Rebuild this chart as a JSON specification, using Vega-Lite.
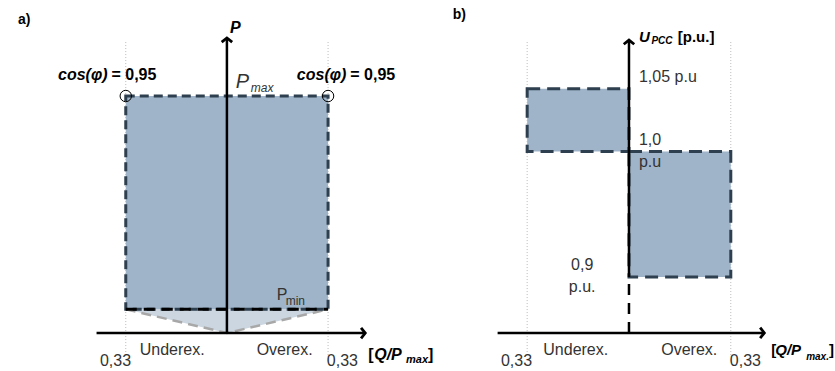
{
  "$schema": "https://vega.github.io/schema/vega-lite/v6.json",
  "width": 835,
  "height": 371,
  "autosize": {"type": "fit", "contains": "padding"},
  "padding": 0,
  "background": "white",
  "config": {
    "view": {"stroke": null},
    "axis": {"disable": true},
    "text": {"font": "Liberation Sans", "baseline": "middle"}
  },
  "resolve": {"scale": {"x": "independent", "y": "independent"}},
  "layer": [
    {
      "layer": [
        {
          "data": {"values": [{"q": -0.33, "a": -0.093, "b": 1.228}, {"q": 0.33, "a": -0.093, "b": 1.228}]},
          "mark": {"type": "rule", "color": "#bbbbbb", "strokeWidth": 1, "strokeDash": [1, 2]},
          "encoding": {
            "x": {"field": "q", "type": "quantitative", "scale": {"domain": [-0.7403, 1.9708], "nice": false, "zero": false}},
            "y": {"field": "a", "type": "quantitative", "scale": {"domain": [-0.1603, 1.4051], "nice": false, "zero": false}},
            "y2": {"field": "b"}
          }
        },
        {
          "data": {"values": [{"q": -0.33, "p": 0.1, "top": 0.1}, {"q": 0, "p": 0, "top": 0.1}, {"q": 0.33, "p": 0.1, "top": 0.1}]},
          "mark": {"type": "area", "color": "#cbd6e1", "opacity": 1},
          "encoding": {
            "x": {"field": "q", "type": "quantitative", "scale": {"domain": [-0.7403, 1.9708], "nice": false, "zero": false}},
            "y": {"field": "p", "type": "quantitative", "scale": {"domain": [-0.1603, 1.4051], "nice": false, "zero": false}},
            "y2": {"field": "top"}
          }
        },
        {
          "data": {"values": [{"q": -0.33, "p": 0.1}, {"q": 0, "p": 0}, {"q": 0.33, "p": 0.1}]},
          "mark": {"type": "line", "color": "#a8a8a8", "strokeWidth": 2.5, "strokeDash": [10, 6]},
          "encoding": {
            "x": {"field": "q", "type": "quantitative", "scale": {"domain": [-0.7403, 1.9708], "nice": false, "zero": false}},
            "y": {"field": "p", "type": "quantitative", "scale": {"domain": [-0.1603, 1.4051], "nice": false, "zero": false}}
          }
        },
        {
          "data": {"values": [{"q1": -0.33, "q2": 0.33, "p1": 0.1, "p2": 1.0}]},
          "mark": {"type": "rect", "fill": "#9fb4c8", "stroke": "#2e3f4f", "strokeWidth": 3, "strokeDash": [9, 5]},
          "encoding": {
            "x": {"field": "q1", "type": "quantitative", "scale": {"domain": [-0.7403, 1.9708], "nice": false, "zero": false}},
            "x2": {"field": "q2"},
            "y": {"field": "p1", "type": "quantitative", "scale": {"domain": [-0.1603, 1.4051], "nice": false, "zero": false}},
            "y2": {"field": "p2"}
          }
        },
        {
          "data": {"values": [{"q1": -0.33, "q2": 0.33, "p": 0.1}]},
          "mark": {"type": "rule", "color": "#000000", "strokeWidth": 3, "strokeDash": [11, 7]},
          "encoding": {
            "x": {"field": "q1", "type": "quantitative", "scale": {"domain": [-0.7403, 1.9708], "nice": false, "zero": false}},
            "x2": {"field": "q2"},
            "y": {"field": "p", "type": "quantitative", "scale": {"domain": [-0.1603, 1.4051], "nice": false, "zero": false}}
          }
        },
        {
          "data": {"values": [{"q": 0, "a": 0, "b": 1.24}]},
          "mark": {"type": "rule", "color": "#000000", "strokeWidth": 2.5},
          "encoding": {
            "x": {"field": "q", "type": "quantitative", "scale": {"domain": [-0.7403, 1.9708], "nice": false, "zero": false}},
            "y": {"field": "a", "type": "quantitative", "scale": {"domain": [-0.1603, 1.4051], "nice": false, "zero": false}},
            "y2": {"field": "b"}
          }
        },
        {
          "data": {"values": [{"a": -0.4253, "b": 0.447, "p": 0}]},
          "mark": {"type": "rule", "color": "#000000", "strokeWidth": 2.5},
          "encoding": {
            "x": {"field": "a", "type": "quantitative", "scale": {"domain": [-0.7403, 1.9708], "nice": false, "zero": false}},
            "x2": {"field": "b"},
            "y": {"field": "p", "type": "quantitative", "scale": {"domain": [-0.1603, 1.4051], "nice": false, "zero": false}}
          }
        },
        {
          "data": {"values": [{"q": 0, "p": 1.2447}]},
          "mark": {"type": "point", "shape": "M-1,0.8L0,0L1,0.8", "size": 110, "filled": false, "stroke": "#000000", "strokeWidth": 2.8, "opacity": 1},
          "encoding": {
            "x": {"field": "q", "type": "quantitative", "scale": {"domain": [-0.7403, 1.9708], "nice": false, "zero": false}},
            "y": {"field": "p", "type": "quantitative", "scale": {"domain": [-0.1603, 1.4051], "nice": false, "zero": false}}
          }
        },
        {
          "data": {"values": [{"q": 0.4513, "p": 0}]},
          "mark": {"type": "point", "shape": "M-0.8,-1L0,0L-0.8,1", "size": 110, "filled": false, "stroke": "#000000", "strokeWidth": 2.8, "opacity": 1},
          "encoding": {
            "x": {"field": "q", "type": "quantitative", "scale": {"domain": [-0.7403, 1.9708], "nice": false, "zero": false}},
            "y": {"field": "p", "type": "quantitative", "scale": {"domain": [-0.1603, 1.4051], "nice": false, "zero": false}}
          }
        },
        {
          "data": {"values": [{"q": -0.33, "p": 1.0}, {"q": 0.33, "p": 1.0}]},
          "mark": {"type": "point", "shape": "circle", "size": 130, "filled": false, "stroke": "#000000", "strokeWidth": 1, "opacity": 1},
          "encoding": {
            "x": {"field": "q", "type": "quantitative", "scale": {"domain": [-0.7403, 1.9708], "nice": false, "zero": false}},
            "y": {"field": "p", "type": "quantitative", "scale": {"domain": [-0.1603, 1.4051], "nice": false, "zero": false}}
          }
        },
        {
          "data": {"values": [{"q": -0.3766, "p": 1.0886, "t": "= 0,95"}, {"q": 0.4026, "p": 1.0886, "t": "= 0,95"}, {"q": 0.461, "p": -0.0928, "t": "["}, {"q": 0.6558, "p": -0.0928, "t": "]"}]},
          "mark": {"type": "text", "fontWeight": "bold", "fontSize": 16, "align": "left", "color": "#000000"},
          "encoding": {
            "x": {"field": "q", "type": "quantitative", "scale": {"domain": [-0.7403, 1.9708], "nice": false, "zero": false}},
            "y": {"field": "p", "type": "quantitative", "scale": {"domain": [-0.1603, 1.4051], "nice": false, "zero": false}},
            "text": {"field": "t"}
          }
        },
        {
          "data": {"values": [{"q": -0.3896, "p": 1.0886, "t": "cos(φ)"}, {"q": 0.3896, "p": 1.0886, "t": "cos(φ)"}]},
          "mark": {"type": "text", "fontWeight": "bold", "fontStyle": "italic", "fontSize": 16, "align": "right", "color": "#000000"},
          "encoding": {
            "x": {"field": "q", "type": "quantitative", "scale": {"domain": [-0.7403, 1.9708], "nice": false, "zero": false}},
            "y": {"field": "p", "type": "quantitative", "scale": {"domain": [-0.1603, 1.4051], "nice": false, "zero": false}},
            "text": {"field": "t"}
          }
        },
        {
          "data": {"values": [{"q": 0.0097, "p": 1.2869, "t": "P"}, {"q": 0.4805, "p": -0.0928, "t": "Q/P"}]},
          "mark": {"type": "text", "fontWeight": "bold", "fontStyle": "italic", "fontSize": 16, "align": "left", "color": "#000000"},
          "encoding": {
            "x": {"field": "q", "type": "quantitative", "scale": {"domain": [-0.7403, 1.9708], "nice": false, "zero": false}},
            "y": {"field": "p", "type": "quantitative", "scale": {"domain": [-0.1603, 1.4051], "nice": false, "zero": false}},
            "text": {"field": "t"}
          }
        },
        {
          "data": {"values": [{"q": 0.5844, "p": -0.1139, "t": "max"}]},
          "mark": {"type": "text", "fontWeight": "bold", "fontStyle": "italic", "fontSize": 11, "align": "left", "color": "#000000"},
          "encoding": {
            "x": {"field": "q", "type": "quantitative", "scale": {"domain": [-0.7403, 1.9708], "nice": false, "zero": false}},
            "y": {"field": "p", "type": "quantitative", "scale": {"domain": [-0.1603, 1.4051], "nice": false, "zero": false}},
            "text": {"field": "t"}
          }
        },
        {
          "data": {"values": [{"q": -0.6818, "p": 1.3207, "t": "a)"}]},
          "mark": {"type": "text", "fontWeight": "bold", "fontSize": 14, "align": "left", "color": "#000000"},
          "encoding": {
            "x": {"field": "q", "type": "quantitative", "scale": {"domain": [-0.7403, 1.9708], "nice": false, "zero": false}},
            "y": {"field": "p", "type": "quantitative", "scale": {"domain": [-0.1603, 1.4051], "nice": false, "zero": false}},
            "text": {"field": "t"}
          }
        },
        {
          "data": {"values": [{"q": 0.0292, "p": 1.0591, "t": "P"}]},
          "mark": {"type": "text", "fontStyle": "italic", "fontSize": 20, "align": "left", "color": "#333333"},
          "encoding": {
            "x": {"field": "q", "type": "quantitative", "scale": {"domain": [-0.7403, 1.9708], "nice": false, "zero": false}},
            "y": {"field": "p", "type": "quantitative", "scale": {"domain": [-0.1603, 1.4051], "nice": false, "zero": false}},
            "text": {"field": "t"}
          }
        },
        {
          "data": {"values": [{"q": 0.0779, "p": 1.0338, "t": "max"}]},
          "mark": {"type": "text", "fontStyle": "italic", "fontSize": 12, "align": "left", "color": "#333333"},
          "encoding": {
            "x": {"field": "q", "type": "quantitative", "scale": {"domain": [-0.7403, 1.9708], "nice": false, "zero": false}},
            "y": {"field": "p", "type": "quantitative", "scale": {"domain": [-0.1603, 1.4051], "nice": false, "zero": false}},
            "text": {"field": "t"}
          }
        },
        {
          "data": {"values": [{"q": 0.1623, "p": 0.1603, "t": "P"}]},
          "mark": {"type": "text", "fontSize": 16, "align": "left", "color": "#333333"},
          "encoding": {
            "x": {"field": "q", "type": "quantitative", "scale": {"domain": [-0.7403, 1.9708], "nice": false, "zero": false}},
            "y": {"field": "p", "type": "quantitative", "scale": {"domain": [-0.1603, 1.4051], "nice": false, "zero": false}},
            "text": {"field": "t"}
          }
        },
        {
          "data": {"values": [{"q": 0.1916, "p": 0.135, "t": "min"}]},
          "mark": {"type": "text", "fontSize": 12, "align": "left", "color": "#333333"},
          "encoding": {
            "x": {"field": "q", "type": "quantitative", "scale": {"domain": [-0.7403, 1.9708], "nice": false, "zero": false}},
            "y": {"field": "p", "type": "quantitative", "scale": {"domain": [-0.1603, 1.4051], "nice": false, "zero": false}},
            "text": {"field": "t"}
          }
        },
        {
          "data": {"values": [{"q": -0.1786, "p": -0.0717, "t": "Underex."}, {"q": 0.1883, "p": -0.0717, "t": "Overex."}, {"q": -0.3636, "p": -0.1181, "t": "0,33"}, {"q": 0.3766, "p": -0.1181, "t": "0,33"}]},
          "mark": {"type": "text", "fontSize": 16, "align": "center", "color": "#333333"},
          "encoding": {
            "x": {"field": "q", "type": "quantitative", "scale": {"domain": [-0.7403, 1.9708], "nice": false, "zero": false}},
            "y": {"field": "p", "type": "quantitative", "scale": {"domain": [-0.1603, 1.4051], "nice": false, "zero": false}},
            "text": {"field": "t"}
          }
        }
      ]
    },
    {
      "layer": [
        {
          "data": {"values": [{"q": -0.33, "a": 0.8378, "b": 1.0873}, {"q": 0.33, "a": 0.8378, "b": 1.0873}]},
          "mark": {"type": "rule", "color": "#bbbbbb", "strokeWidth": 1, "strokeDash": [1, 2]},
          "encoding": {
            "x": {"field": "q", "type": "quantitative", "scale": {"domain": [-2.0387, 0.6548], "nice": false, "zero": false}},
            "y": {"field": "a", "type": "quantitative", "scale": {"domain": [0.8251, 1.1207], "nice": false, "zero": false}},
            "y2": {"field": "b"}
          }
        },
        {
          "data": {"values": [{"q1": -0.33, "q2": 0, "u1": 1.0, "u2": 1.05}, {"q1": 0, "q2": 0.33, "u1": 0.9, "u2": 1.0}]},
          "mark": {"type": "rect", "fill": "#9fb4c8", "stroke": "#2e3f4f", "strokeWidth": 3, "strokeDash": [13, 7]},
          "encoding": {
            "x": {"field": "q1", "type": "quantitative", "scale": {"domain": [-2.0387, 0.6548], "nice": false, "zero": false}},
            "x2": {"field": "q2"},
            "y": {"field": "u1", "type": "quantitative", "scale": {"domain": [0.8251, 1.1207], "nice": false, "zero": false}},
            "y2": {"field": "u2"}
          }
        },
        {
          "data": {"values": [{"q": 0, "a": 0.9, "b": 1.0888}]},
          "mark": {"type": "rule", "color": "#000000", "strokeWidth": 2.5},
          "encoding": {
            "x": {"field": "q", "type": "quantitative", "scale": {"domain": [-2.0387, 0.6548], "nice": false, "zero": false}},
            "y": {"field": "a", "type": "quantitative", "scale": {"domain": [0.8251, 1.1207], "nice": false, "zero": false}},
            "y2": {"field": "b"}
          }
        },
        {
          "data": {"values": [{"q": 0, "a": 0.8554, "b": 0.9}]},
          "mark": {"type": "rule", "color": "#000000", "strokeWidth": 2.5, "strokeDash": [11, 8]},
          "encoding": {
            "x": {"field": "q", "type": "quantitative", "scale": {"domain": [-2.0387, 0.6548], "nice": false, "zero": false}},
            "y": {"field": "a", "type": "quantitative", "scale": {"domain": [0.8251, 1.1207], "nice": false, "zero": false}},
            "y2": {"field": "b"}
          }
        },
        {
          "data": {"values": [{"a": -0.4258, "b": 0.435, "u": 0.8554}]},
          "mark": {"type": "rule", "color": "#000000", "strokeWidth": 2.5},
          "encoding": {
            "x": {"field": "a", "type": "quantitative", "scale": {"domain": [-2.0387, 0.6548], "nice": false, "zero": false}},
            "x2": {"field": "b"},
            "y": {"field": "u", "type": "quantitative", "scale": {"domain": [0.8251, 1.1207], "nice": false, "zero": false}}
          }
        },
        {
          "data": {"values": [{"q": 0, "u": 1.0888}]},
          "mark": {"type": "point", "shape": "M-1,0.8L0,0L1,0.8", "size": 110, "filled": false, "stroke": "#000000", "strokeWidth": 2.8, "opacity": 1},
          "encoding": {
            "x": {"field": "q", "type": "quantitative", "scale": {"domain": [-2.0387, 0.6548], "nice": false, "zero": false}},
            "y": {"field": "u", "type": "quantitative", "scale": {"domain": [0.8251, 1.1207], "nice": false, "zero": false}}
          }
        },
        {
          "data": {"values": [{"q": 0.4387, "u": 0.8554}]},
          "mark": {"type": "point", "shape": "M-0.8,-1L0,0L-0.8,1", "size": 110, "filled": false, "stroke": "#000000", "strokeWidth": 2.8, "opacity": 1},
          "encoding": {
            "x": {"field": "q", "type": "quantitative", "scale": {"domain": [-2.0387, 0.6548], "nice": false, "zero": false}},
            "y": {"field": "u", "type": "quantitative", "scale": {"domain": [0.8251, 1.1207], "nice": false, "zero": false}}
          }
        },
        {
          "data": {"values": [{"q": -0.571, "u": 1.1088, "t": "b)"}]},
          "mark": {"type": "text", "fontWeight": "bold", "fontSize": 14, "align": "left", "color": "#000000"},
          "encoding": {
            "x": {"field": "q", "type": "quantitative", "scale": {"domain": [-2.0387, 0.6548], "nice": false, "zero": false}},
            "y": {"field": "u", "type": "quantitative", "scale": {"domain": [0.8251, 1.1207], "nice": false, "zero": false}},
            "text": {"field": "t"}
          }
        },
        {
          "data": {"values": [{"q": 0.0323, "u": 1.0912, "t": "U"}, {"q": 0.4742, "u": 0.8418, "t": "Q/P"}]},
          "mark": {"type": "text", "fontWeight": "bold", "fontStyle": "italic", "fontSize": 15, "align": "left", "color": "#000000"},
          "encoding": {
            "x": {"field": "q", "type": "quantitative", "scale": {"domain": [-2.0387, 0.6548], "nice": false, "zero": false}},
            "y": {"field": "u", "type": "quantitative", "scale": {"domain": [0.8251, 1.1207], "nice": false, "zero": false}},
            "text": {"field": "t"}
          }
        },
        {
          "data": {"values": [{"q": 0.0726, "u": 1.088, "t": "PCC"}, {"q": 0.5742, "u": 0.8363, "t": "max."}]},
          "mark": {"type": "text", "fontWeight": "bold", "fontStyle": "italic", "fontSize": 10, "align": "left", "color": "#000000"},
          "encoding": {
            "x": {"field": "q", "type": "quantitative", "scale": {"domain": [-2.0387, 0.6548], "nice": false, "zero": false}},
            "y": {"field": "u", "type": "quantitative", "scale": {"domain": [0.8251, 1.1207], "nice": false, "zero": false}},
            "text": {"field": "t"}
          }
        },
        {
          "data": {"values": [{"q": 0.1581, "u": 1.0912, "t": "[p.u.]"}, {"q": 0.4613, "u": 0.8418, "t": "["}, {"q": 0.6484, "u": 0.8418, "t": "]"}]},
          "mark": {"type": "text", "fontWeight": "bold", "fontSize": 15, "align": "left", "color": "#000000"},
          "encoding": {
            "x": {"field": "q", "type": "quantitative", "scale": {"domain": [-2.0387, 0.6548], "nice": false, "zero": false}},
            "y": {"field": "u", "type": "quantitative", "scale": {"domain": [0.8251, 1.1207], "nice": false, "zero": false}},
            "text": {"field": "t"}
          }
        },
        {
          "data": {"values": [{"q": 0.0323, "u": 1.0594, "t": "1,05 p.u"}, {"q": 0.0323, "u": 1.0092, "t": "1,0"}, {"q": 0.0323, "u": 0.9919, "t": "p.u"}]},
          "mark": {"type": "text", "fontSize": 16, "align": "left", "color": "#333333"},
          "encoding": {
            "x": {"field": "q", "type": "quantitative", "scale": {"domain": [-2.0387, 0.6548], "nice": false, "zero": false}},
            "y": {"field": "u", "type": "quantitative", "scale": {"domain": [0.8251, 1.1207], "nice": false, "zero": false}},
            "text": {"field": "t"}
          }
        },
        {
          "data": {"values": [{"q": -0.1516, "u": 0.9096, "t": "0,9"}, {"q": -0.1516, "u": 0.892, "t": "p.u."}, {"q": -0.1726, "u": 0.8418, "t": "Underex."}, {"q": 0.1952, "u": 0.8418, "t": "Overex."}, {"q": -0.3645, "u": 0.8331, "t": "0,33"}, {"q": 0.3774, "u": 0.8331, "t": "0,33"}]},
          "mark": {"type": "text", "fontSize": 16, "align": "center", "color": "#333333"},
          "encoding": {
            "x": {"field": "q", "type": "quantitative", "scale": {"domain": [-2.0387, 0.6548], "nice": false, "zero": false}},
            "y": {"field": "u", "type": "quantitative", "scale": {"domain": [0.8251, 1.1207], "nice": false, "zero": false}},
            "text": {"field": "t"}
          }
        }
      ]
    }
  ]
}
